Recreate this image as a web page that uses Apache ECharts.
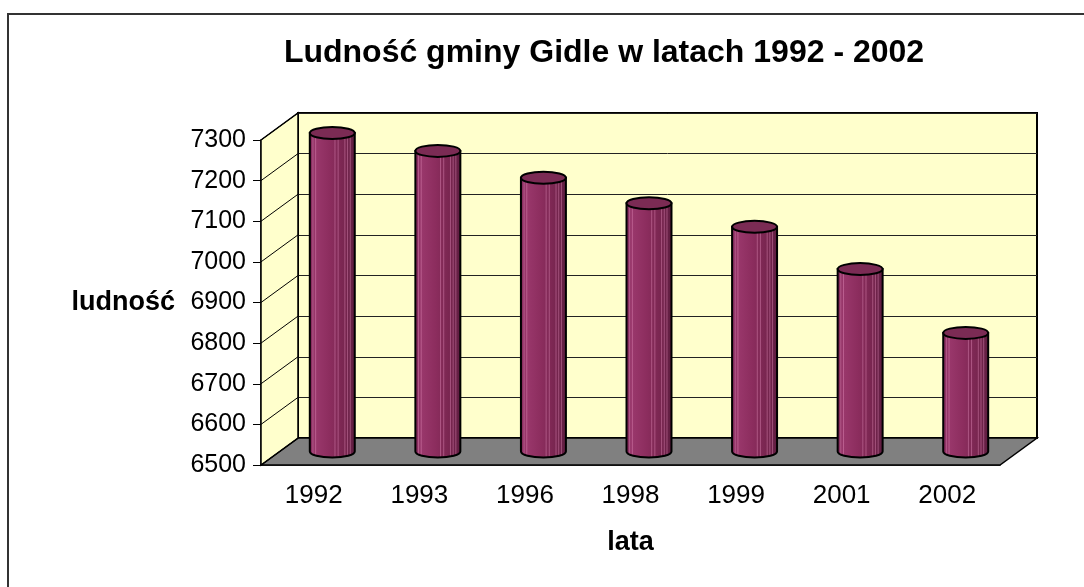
<!DOCTYPE html>
<html>
<head>
<meta charset="utf-8">
<script src="https://cdn.jsdelivr.net/npm/echarts@6/dist/echarts.min.js"></script>
<style>
  html, body { margin: 0; padding: 0; background: #fff; }
  #chart { width: 1084px; height: 587px; }
</style>
</head>
<body>
<div id="chart"></div>
<script>
const years = ["1992", "1993", "1996", "1998", "1999", "2001", "2002"];
const population = [7284, 7240, 7174, 7111, 7053, 6949, 6792];
const yTicks = [6500, 6600, 6700, 6800, 6900, 7000, 7100, 7200, 7300];

const FONT = "'Liberation Sans', Arial, sans-serif";
// depth of the fake 3d box, in pixels
const DX = 37;
const DY = -27;
const yMin = yTicks[0];
const yMax = yTicks[yTicks.length - 1];

const chart = echarts.init(document.getElementById("chart"));

// floor + left side wall, drawn on the front grid
function renderWalls(params, api) {
  const cs = params.coordSys;
  const x0 = cs.x, x1 = cs.x + cs.width;
  const yTop = cs.y, yBot = cs.y + cs.height;
  const children = [
    {
      type: "polygon",
      shape: { points: [[x0, yBot], [x1, yBot], [x1 + DX, yBot + DY], [x0 + DX, yBot + DY]] },
      style: { fill: "#808080", stroke: "#000", lineWidth: 1.5 },
    },
    {
      type: "polygon",
      shape: { points: [[x0, yTop], [x0 + DX, yTop + DY], [x0 + DX, yBot + DY], [x0, yBot]] },
      style: { fill: "#FFFFCC", stroke: "#000", lineWidth: 1.5 },
    },
  ];
  yTicks.forEach((t) => {
    const y = api.coord([0, t])[1];
    children.push({
      type: "line",
      shape: { x1: x0, y1: y, x2: x0 + DX, y2: y + DY },
      style: { stroke: "#000", lineWidth: 1 },
    });
  });
  return { type: "group", children };
}

function renderCylinder(params, api) {
  const idx = api.value(0);
  const v = api.value(1);
  const top = api.coord([idx, v]);
  const base = api.coord([idx, yMin]);
  const band = api.size([1, 0])[0];
  const rx = band * 0.213;
  const ry = 6;
  const cx = top[0] + DX / 2;
  const ty = top[1] + DY / 2;
  const by = base[1] + DY / 2;
  const l = cx - rx, r = cx + rx;

  const body = `M ${l} ${ty} L ${l} ${by} A ${rx} ${ry} 0 0 0 ${r} ${by} L ${r} ${ty} Z`;
  const cap = `M ${l} ${ty} A ${rx} ${ry} 0 1 0 ${r} ${ty} A ${rx} ${ry} 0 1 0 ${l} ${ty} Z`;

  const children = [
    {
      type: "path",
      shape: { pathData: body },
      style: {
        fill: new echarts.graphic.LinearGradient(0, 0, 1, 0, [
          { offset: 0, color: "#82295a" },
          { offset: 0.12, color: "#9a386c" },
          { offset: 0.45, color: "#8c2d5e" },
          { offset: 0.8, color: "#76254e" },
          { offset: 1, color: "#5e1d40" },
        ]),
        stroke: "none",
      },
    },
  ];
  // light vertical streaks like the original gradient banding
  [0.07, 0.13, 0.56, 0.63, 0.78, 0.84, 0.9].forEach((p) => {
    const x = l + p * 2 * rx;
    const dx = (x - cx) / rx;
    const yb = by + ry * Math.sqrt(Math.max(0, 1 - dx * dx));
    children.push({
      type: "line",
      shape: { x1: x, y1: ty, x2: x, y2: yb },
      style: { stroke: "rgba(225,140,185,0.45)", lineWidth: 1 },
    });
  });
  children.push({
    type: "path",
    shape: { pathData: body },
    style: { fill: "none", stroke: "#000", lineWidth: 2 },
  });
  children.push({
    type: "path",
    shape: { pathData: cap },
    style: { fill: "#7b2b54", stroke: "#000", lineWidth: 2 },
  });
  return { type: "group", children };
}

const option = {
  backgroundColor: "#fff",
  animation: false,
  graphic: [
    {
      type: "rect",
      shape: { x: 8, y: 14, width: 1100, height: 600 },
      style: { fill: "none", stroke: "#333", lineWidth: 2 },
      z: 0,
    },
    {
      type: "text",
      x: 604,
      y: 53,
      style: {
        text: "Ludność gminy Gidle w latach 1992 - 2002",
        font: `bold 32px ${FONT}`,
        fill: "#000",
        align: "center",
        verticalAlign: "middle",
      },
    },
  ],
  grid: [
    { left: 261, right: 84, top: 140, bottom: 122 },
    {
      left: 261 + DX, right: 84 - DX, top: 140 + DY, bottom: 122 - DY,
      show: true, backgroundColor: "#FFFFCC", borderColor: "#000", borderWidth: 2,
    },
  ],
  xAxis: [
    {
      gridIndex: 0,
      type: "category",
      data: years,
      name: "lata",
      nameLocation: "middle",
      nameGap: 64,
      nameTextStyle: { fontFamily: FONT, fontSize: 27, fontWeight: "bold", color: "#000" },
      axisLine: { lineStyle: { color: "#000", width: 1.5 } },
      axisTick: { length: 5, lineStyle: { color: "#000" } },
      axisLabel: { fontFamily: FONT, fontSize: 26, color: "#000", margin: 18 },
    },
    { gridIndex: 1, type: "category", data: years, show: false },
  ],
  yAxis: [
    {
      gridIndex: 0,
      type: "value",
      min: yMin,
      max: yMax,
      interval: 100,
      name: "ludność",
      nameLocation: "middle",
      nameRotate: 0,
      nameGap: 86,
      nameTextStyle: { fontFamily: FONT, fontSize: 27, fontWeight: "bold", color: "#000", align: "right" },
      axisLine: { show: true, lineStyle: { color: "#000", width: 1.5 } },
      axisTick: { show: true, length: 8, lineStyle: { color: "#000" } },
      axisLabel: {
        fontFamily: FONT, fontSize: 25, color: "#000", margin: 15,
        formatter: (val) => String(val),
      },
      splitLine: { show: false },
    },
    {
      gridIndex: 1,
      type: "value",
      min: yMin,
      max: yMax,
      interval: 100,
      axisLine: { show: false },
      axisTick: { show: false },
      axisLabel: { show: false },
      splitLine: { show: true, lineStyle: { color: "#222", width: 1 } },
    },
  ],
  series: [
    {
      type: "custom",
      xAxisIndex: 0,
      yAxisIndex: 0,
      renderItem: renderWalls,
      data: [[0, yMin]],
      z: 2,
      silent: true,
    },
    {
      type: "custom",
      xAxisIndex: 0,
      yAxisIndex: 0,
      renderItem: renderCylinder,
      data: population.map((v, i) => [i, v]),
      z: 3,
    },
  ],
};

chart.setOption(option);
</script>
</body>
</html>
